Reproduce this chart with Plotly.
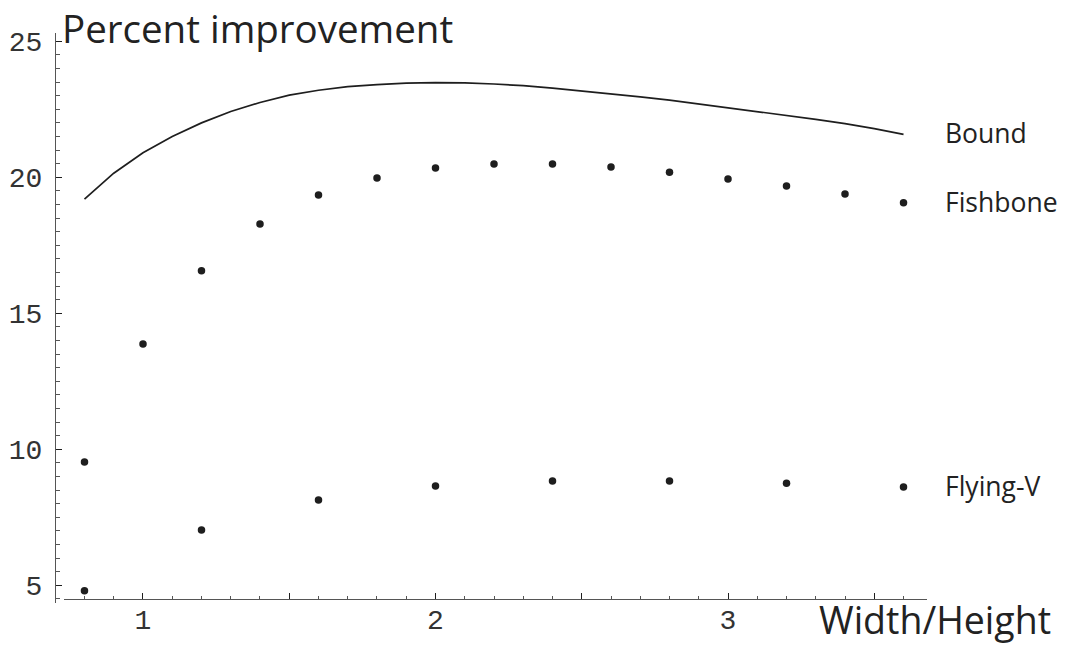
import plotly.graph_objects as go

# ---- data ----
bound_x = [0.8, 0.9, 1.0, 1.1, 1.2, 1.3, 1.4, 1.5, 1.6, 1.7, 1.8, 1.9, 2.0, 2.1, 2.2,
           2.3, 2.4, 2.5, 2.6, 2.7, 2.8, 2.9, 3.0, 3.1, 3.2, 3.3, 3.4, 3.5, 3.6]
bound_y = [19.2, 20.15, 20.9, 21.5, 22.0, 22.42, 22.75, 23.02, 23.2, 23.33, 23.41, 23.46,
           23.48, 23.47, 23.43, 23.37, 23.28, 23.18, 23.07, 22.96, 22.84, 22.70, 22.56,
           22.42, 22.28, 22.13, 21.97, 21.79, 21.58]

fish_x = [0.8, 1.0, 1.2, 1.4, 1.6, 1.8, 2.0, 2.2, 2.4, 2.6, 2.8, 3.0, 3.2, 3.4, 3.6]
fish_y = [9.53, 13.87, 16.56, 18.28, 19.35, 19.97, 20.34, 20.49, 20.49, 20.38, 20.19,
          19.94, 19.68, 19.39, 19.06]

flyv_x = [0.8, 1.2, 1.6, 2.0, 2.4, 2.8, 3.2, 3.6]
flyv_y = [4.80, 7.03, 8.14, 8.65, 8.83, 8.83, 8.75, 8.61]

series_labels = ["Bound", "Fishbone", "Flying-V"]

x_tickvals = [1, 1.5, 2, 2.5, 3, 3.5]
x_ticktext = ["1", "", "2", "", "3", ""]
y_tickvals = [5, 10, 15, 20, 25]
y_ticktext = ["5", "10", "15", "20", "25"]

x_title = "Width/Height"
y_title = "Percent improvement"

# ---- style ----
INK = "#1e1e1e"
AXIS = "#555555"
TICKFONT = dict(family="Liberation Mono, Courier New, monospace", size=28, color="#333333")
SANS = "Open Sans, Noto Sans, sans-serif"

fig = go.Figure()
fig.add_trace(go.Scatter(x=bound_x, y=bound_y, mode="lines",
                         line=dict(color=INK, width=1.7), name=series_labels[0],
                         showlegend=False))
fig.add_trace(go.Scatter(x=fish_x, y=fish_y, mode="markers",
                         marker=dict(color=INK, size=7.5), name=series_labels[1],
                         showlegend=False))
fig.add_trace(go.Scatter(x=flyv_x, y=flyv_y, mode="markers",
                         marker=dict(color=INK, size=7.5), name=series_labels[2],
                         showlegend=False))

for xs, ys, lab in [(bound_x, bound_y, series_labels[0]),
                    (fish_x, fish_y, series_labels[1]),
                    (flyv_x, flyv_y, series_labels[2])]:
    fig.add_annotation(x=xs[-1], y=ys[-1], xref="x", yref="y", text=lab,
                       showarrow=False, xanchor="left", yanchor="middle",
                       xshift=39, yshift=1,
                       font=dict(family=SANS, size=26.5, color="#222222"))

fig.add_annotation(x=0.0057, y=1.0575, xref="paper", yref="paper", text=y_title,
                   showarrow=False, xanchor="left", yanchor="top",
                   font=dict(family=SANS, size=38.5, color="#222222"))
fig.add_annotation(x=1.1445, y=-0.0289, xref="paper", yref="paper", text=x_title,
                   showarrow=False, xanchor="right", yanchor="middle",
                   font=dict(family=SANS, size=37.5, color="#222222"))

fig.update_layout(
    width=1066, height=646,
    margin=dict(l=55, r=139, t=33, b=43, autoexpand=False),
    paper_bgcolor="white", plot_bgcolor="white",
    xaxis=dict(domain=[0.0103, 1.0], range=[0.7299, 3.6803], anchor="free", position=0.007,
               side="bottom", showgrid=False, zeroline=False, automargin=False,
               showline=True, linecolor=AXIS, linewidth=1.3,
               tickmode="array", tickvals=x_tickvals, ticktext=x_ticktext,
               ticks="inside", ticklen=6, tickwidth=1.3, tickcolor=INK,
               tickfont=TICKFONT, ticklabelstandoff=-5,
               minor=dict(dtick=0.1, tick0=0, ticks="inside", ticklen=3,
                          tickwidth=1, tickcolor=AXIS, showgrid=False)),
    yaxis=dict(domain=[0, 1], range=[4.349, 25.305], anchor="free", position=0,
               showgrid=False, zeroline=False, automargin=False,
               showline=True, linecolor=AXIS, linewidth=1.3,
               tickmode="array", tickvals=y_tickvals, ticktext=y_ticktext,
               ticks="inside", ticklen=6, tickwidth=1.3, tickcolor=INK,
               tickfont=TICKFONT, ticklabelstandoff=7,
               minor=dict(dtick=0.5, tick0=0, ticks="inside", ticklen=4,
                          tickwidth=1, tickcolor=AXIS, showgrid=False)),
)

fig.write_html("out.html", config={"displayModeBar": False},
               post_script="document.body.style.margin='0px';")
